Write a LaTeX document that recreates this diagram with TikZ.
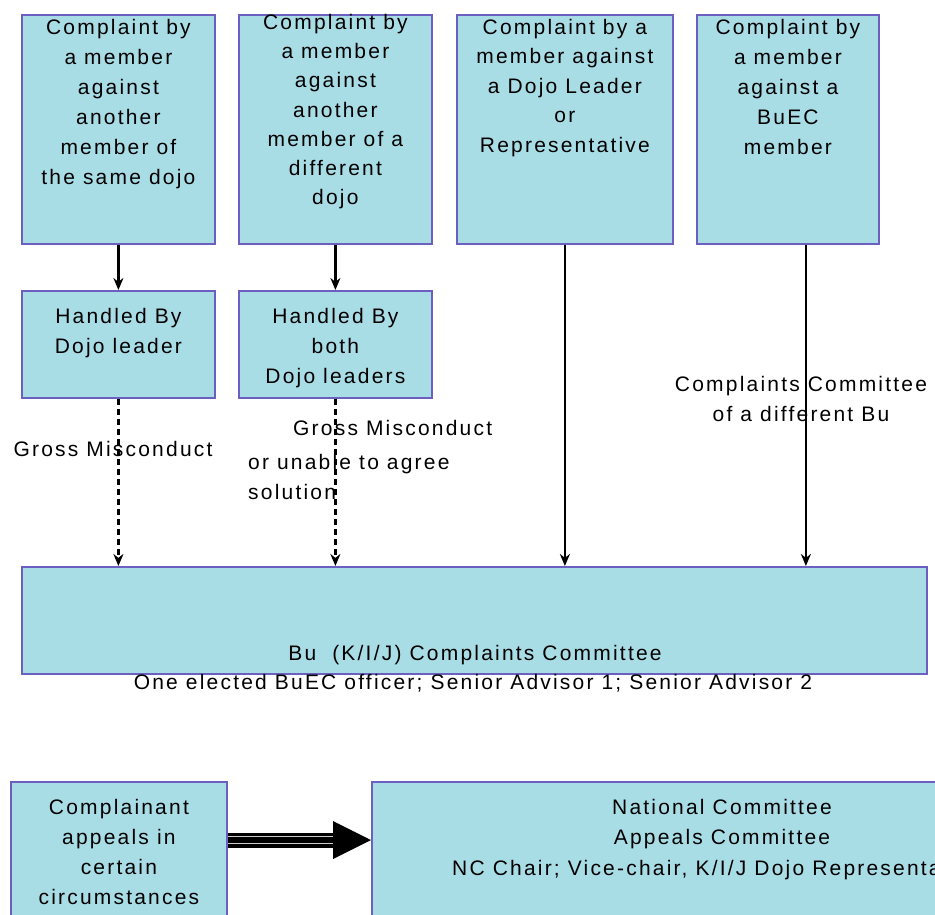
\documentclass[tikz,border=0pt]{standalone}
\usepackage{fontspec}
\setmainfont{Liberation Sans}[LetterSpace=10.5]
\usetikzlibrary{arrows.meta}
\definecolor{boxfill}{HTML}{A8DDE6}
\definecolor{boxline}{HTML}{6B5FC0}
\tikzset{
  box/.style={draw=boxline, fill=boxfill, line width=1.8pt, rectangle, inner sep=0pt, anchor=north west},
  txt/.style={inner sep=0pt, align=center, font=\fontsize{21}{30}\selectfont},
  lbl/.style={inner sep=0pt, align=center, font=\fontsize{21}{30}\selectfont},
  arr/.style={line width=2.2pt, -{Stealth[length=12pt,width=10pt]}},
  darr/.style={arr, dash pattern=on 6pt off 4pt},
}
\begin{document}
\begin{tikzpicture}[x=1pt,y=-1pt]
\useasboundingbox (0,0) rectangle (935,915);
\clip (0,0) rectangle (935,915);
\fill[white] (0,0) rectangle (935,915);
% top row boxes
\node[box, minimum width=193pt, minimum height=229pt] (b1) at (21,14) {};
\node[box, minimum width=193pt, minimum height=229pt] (b2) at (238,14) {};
\node[box, minimum width=216pt, minimum height=229pt] (b3) at (456,14) {};
\node[box, minimum width=182pt, minimum height=229pt] (b4) at (696,14) {};
\node[txt, anchor=north] (t1) at ([yshift=-5pt]b1.north) {Complaint by\\a member\\against\\another\\member of\\the same dojo};
\node[txt, anchor=north, font=\fontsize{21}{29.2}\selectfont] (t2) at ([yshift=0pt]b2.north) {Complaint by\\a member\\against\\another\\member of a\\different\\dojo};
\node[txt, anchor=north, font=\fontsize{21}{29.5}\selectfont] (t3) at ([yshift=-5pt]b3.north) {Complaint by a\\member against\\a Dojo Leader\\or\\Representative};
\node[txt, anchor=north] (t4) at ([yshift=-5pt]b4.north) {Complaint by\\a member\\against a\\BuEC\\member};
% handled boxes
\node[box, minimum width=193pt, minimum height=107pt] (h1) at (21,290) {};
\node[box, minimum width=193pt, minimum height=107pt] (h2) at (238,290) {};
\node[txt, anchor=north] (th1) at ([yshift=-18pt]h1.north) {Handled By\\Dojo leader};
\node[txt, anchor=north] (th2) at ([yshift=-18pt]h2.north) {Handled By\\both\\Dojo leaders};
% big committee box
\node[box, minimum width=905pt, minimum height=107pt] (big) at (21,566) {};
\node[txt, anchor=base] (tb1) at (475,660) {Bu\ \ (K/I/J) Complaints Committee};
\node[txt, anchor=base] (tb2) at (473,689) {One elected BuEC officer; Senior Advisor 1; Senior Advisor 2};
% bottom boxes
\node[box, minimum width=216pt, minimum height=160pt] (bl) at (10,781) {};
\node[box, minimum width=700pt, minimum height=160pt] (br) at (371,781) {};
\node[txt, anchor=north] (tbl) at ([yshift=-18pt]bl.north) {Complainant\\appeals in\\certain\\circumstances};
\node[txt, anchor=north] (tbr) at (722,799) {National Committee\\Appeals Committee};
\node[txt, anchor=base west] (tbr2) at (452,875) {NC Chair; Vice-chair, K/I/J Dojo Representa};
% connectors
\draw[arr] (b1) -- (h1);
\draw[arr] (b2) -- (h2);
\draw[arr] (b3.south) -- (b3.south |- big.north);
\draw[arr] ([xshift=18pt]b4.south) -- ([xshift=18pt]b4.south |- big.north);
\draw[darr] (h1.south) -- (h1.south |- big.north);
\draw[darr] (h2.south) -- (h2.south |- big.north);
% labels
\node[lbl] (l1) at (113,449) {Gross Misconduct};
\node[lbl, anchor=base west] (l2a) at (293,435) {Gross Misconduct};
\node[lbl, anchor=base west, align=left] (l2b) at (248,499) {or unable to agree\\solution};
\node[lbl] (l3) at (801,399) {Complaints Committee\\of a different Bu};
% big appeal arrow
\coordinate (as) at ([yshift=-59pt]bl.north east);
\coordinate (ae) at ([yshift=-59pt]br.north west);
\draw[line width=15pt] (as) -- ([xshift=-36pt]ae);
\draw[gray!40, line width=1.3pt] ([yshift=3.5pt]as) -- ([xshift=-36pt,yshift=3.5pt]ae);
\draw[gray!40, line width=1.3pt] ([yshift=-3.5pt]as) -- ([xshift=-36pt,yshift=-3.5pt]ae);
\fill (ae) -- ([xshift=-38pt,yshift=19pt]ae) -- ([xshift=-38pt,yshift=-19pt]ae) -- cycle;
\end{tikzpicture}
\end{document}
